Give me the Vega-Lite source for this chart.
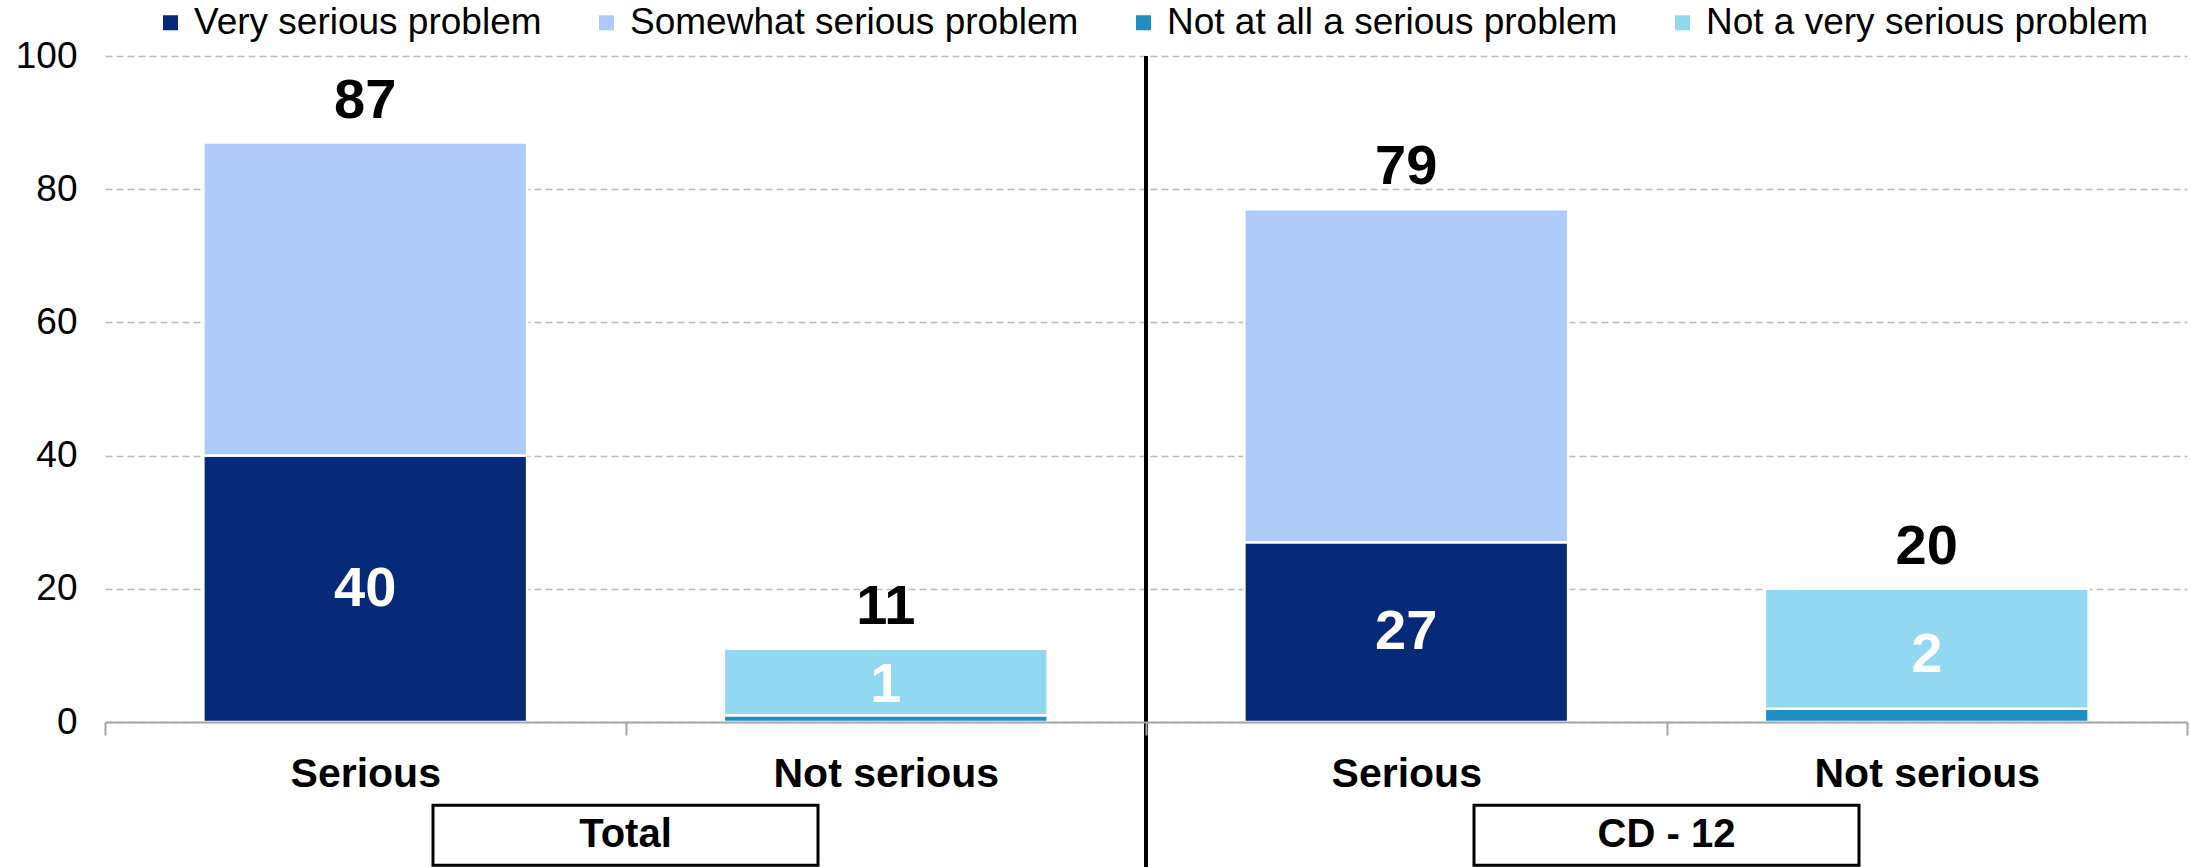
{
  "$schema": "https://vega.github.io/schema/vega-lite/v6.json",
  "autosize": {"type": "none"},
  "padding": {"left": 105, "top": 56, "right": 3, "bottom": 145},
  "width": 2082,
  "height": 666,
  "background": "white",
  "datasets": {
    "survey": [
      {"group": "Total", "category": "Serious", "response": "Very serious problem", "value": 40},
      {"group": "Total", "category": "Serious", "response": "Somewhat serious problem", "value": 47},
      {"group": "Total", "category": "Serious", "response": "Net", "value": 87},
      {"group": "Total", "category": "Not serious", "response": "Not at all a serious problem", "value": 1},
      {"group": "Total", "category": "Not serious", "response": "Not a very serious problem", "value": 10},
      {"group": "Total", "category": "Not serious", "response": "Net", "value": 11},
      {"group": "CD - 12", "category": "Serious", "response": "Very serious problem", "value": 27},
      {"group": "CD - 12", "category": "Serious", "response": "Somewhat serious problem", "value": 50},
      {"group": "CD - 12", "category": "Serious", "response": "Net", "value": 79},
      {"group": "CD - 12", "category": "Not serious", "response": "Not at all a serious problem", "value": 2},
      {"group": "CD - 12", "category": "Not serious", "response": "Not a very serious problem", "value": 18},
      {"group": "CD - 12", "category": "Not serious", "response": "Net", "value": 20}
    ],
    "groups": [
      {"group": "Total"},
      {"group": "CD - 12"}
    ]
  },
  "layer": [
    {
      "data": {"name": "survey"},
      "transform": [
        {"calculate": "datum.group + '|' + datum.category", "as": "key"}
      ],
      "layer": [
        {
          "transform": [{"filter": "datum.response != 'Net'"}],
          "mark": {"type": "bar", "width": {"band": 0.622}, "stroke": "white", "strokeWidth": 2.5},
          "encoding": {
            "x": {
              "field": "key", "type": "nominal", "sort": null,
              "scale": {"paddingInner": 0, "paddingOuter": 0},
              "axis": {
                "title": null,
                "labelExpr": "split(datum.label, '|')[1]",
                "labelFont": "Liberation Sans", "labelFontWeight": "bold", "labelFontSize": 41,
                "labelColor": "#000000", "labelAngle": 0, "labelPadding": 19, "labelLimit": 0,
                "tickBand": "extent", "tickSize": 13, "tickWidth": 2, "tickColor": "#A6A6A6",
                "domainColor": "#A6A6A6", "domainWidth": 2, "grid": false, "zindex": 1
              }
            },
            "y": {
              "field": "value", "type": "quantitative", "stack": "zero",
              "scale": {"domain": [0, 100], "nice": false},
              "axis": {
                "title": null, "values": [0, 20, 40, 60, 80, 100],
                "labelFont": "Liberation Sans", "labelFontSize": 37, "labelColor": "#000000",
                "labelPadding": 28, "ticks": false, "domain": false,
                "grid": true, "gridDash": [7, 4], "gridColor": "#BDBDBD", "gridWidth": 1.5, "zindex": 0
              }
            },
            "color": {
              "field": "response", "type": "nominal",
              "scale": {
                "domain": ["Very serious problem", "Somewhat serious problem", "Not at all a serious problem", "Not a very serious problem"],
                "range": ["#062A78", "#AFCBFA", "#1F8FC2", "#93D8F1"]
              },
              "legend": {
                "orient": "none", "legendX": 47, "legendY": -52, "direction": "horizontal", "columns": 4,
                "title": null, "symbolType": "square", "symbolSize": 225, "symbolStrokeWidth": 0,
                "labelFont": "Liberation Sans", "labelFontSize": 37, "labelColor": "#000000",
                "labelOffset": 5, "columnPadding": 46, "padding": 0, "labelLimit": 0
              }
            },
            "order": {"field": "response", "sort": "descending"}
          }
        },
        {
          "transform": [
            {"filter": "datum.response != 'Net'"},
            {"joinaggregate": [{"op": "sum", "field": "value", "as": "bar_total"}], "groupby": ["key"]},
            {"filter": "datum.response == 'Very serious problem' || datum.response == 'Not at all a serious problem'"},
            {"calculate": "datum.response == 'Very serious problem' ? datum.value / 2 : datum.bar_total / 2", "as": "label_pos"}
          ],
          "mark": {"type": "text", "font": "Liberation Sans", "fontWeight": "bold", "fontSize": 56, "color": "white", "baseline": "middle", "align": "center"},
          "encoding": {
            "x": {"field": "key", "type": "nominal", "sort": null, "scale": {"paddingInner": 0, "paddingOuter": 0}},
            "y": {"field": "label_pos", "type": "quantitative", "scale": {"domain": [0, 100], "nice": false}},
            "text": {"field": "value", "type": "quantitative"}
          }
        },
        {
          "transform": [
            {"calculate": "datum.response == 'Net' ? 0 : datum.value", "as": "seg"},
            {"joinaggregate": [{"op": "sum", "field": "seg", "as": "bar_top"}], "groupby": ["key"]},
            {"filter": "datum.response == 'Net'"}
          ],
          "mark": {"type": "text", "font": "Liberation Sans", "fontWeight": "bold", "fontSize": 56, "color": "black", "baseline": "middle", "align": "center", "dy": -42},
          "encoding": {
            "x": {"field": "key", "type": "nominal", "sort": null, "scale": {"paddingInner": 0, "paddingOuter": 0}},
            "y": {"field": "bar_top", "type": "quantitative", "scale": {"domain": [0, 100], "nice": false}},
            "text": {"field": "value", "type": "quantitative"}
          }
        }
      ]
    },
    {
      "data": {"name": "groups"},
      "layer": [
        {
          "mark": {"type": "point", "shape": "M-1,-0.156L1,-0.156L1,0.156L-1,0.156Z", "size": 148225, "filled": false, "stroke": "black", "strokeWidth": 3, "opacity": 1},
          "encoding": {
            "x": {"field": "group", "type": "nominal", "sort": null, "scale": {"paddingInner": 0, "paddingOuter": 0}, "axis": null},
            "y": {"datum": -17, "type": "quantitative", "scale": {"domain": [0, 100], "nice": false}}
          }
        },
        {
          "mark": {"type": "text", "font": "Liberation Sans", "fontWeight": "bold", "fontSize": 40, "color": "black", "baseline": "middle", "align": "center"},
          "encoding": {
            "x": {"field": "group", "type": "nominal", "sort": null, "scale": {"paddingInner": 0, "paddingOuter": 0}, "axis": null},
            "y": {"datum": -17, "type": "quantitative", "scale": {"domain": [0, 100], "nice": false}},
            "text": {"field": "group", "type": "nominal"}
          }
        },
        {
          "transform": [{"filter": "datum.group == 'CD - 12'"}],
          "mark": {"type": "rule", "color": "black", "strokeWidth": 4},
          "encoding": {
            "x": {"field": "group", "type": "nominal", "sort": null, "bandPosition": 0, "scale": {"paddingInner": 0, "paddingOuter": 0}, "axis": null},
            "y": {"datum": 100, "type": "quantitative", "scale": {"domain": [0, 100], "nice": false}},
            "y2": {"datum": -22}
          }
        }
      ]
    }
  ],
  "resolve": {"scale": {"x": "independent"}, "axis": {"x": "independent"}},
  "config": {
    "view": {"stroke": null},
    "text": {"font": "Liberation Sans"}
  }
}
